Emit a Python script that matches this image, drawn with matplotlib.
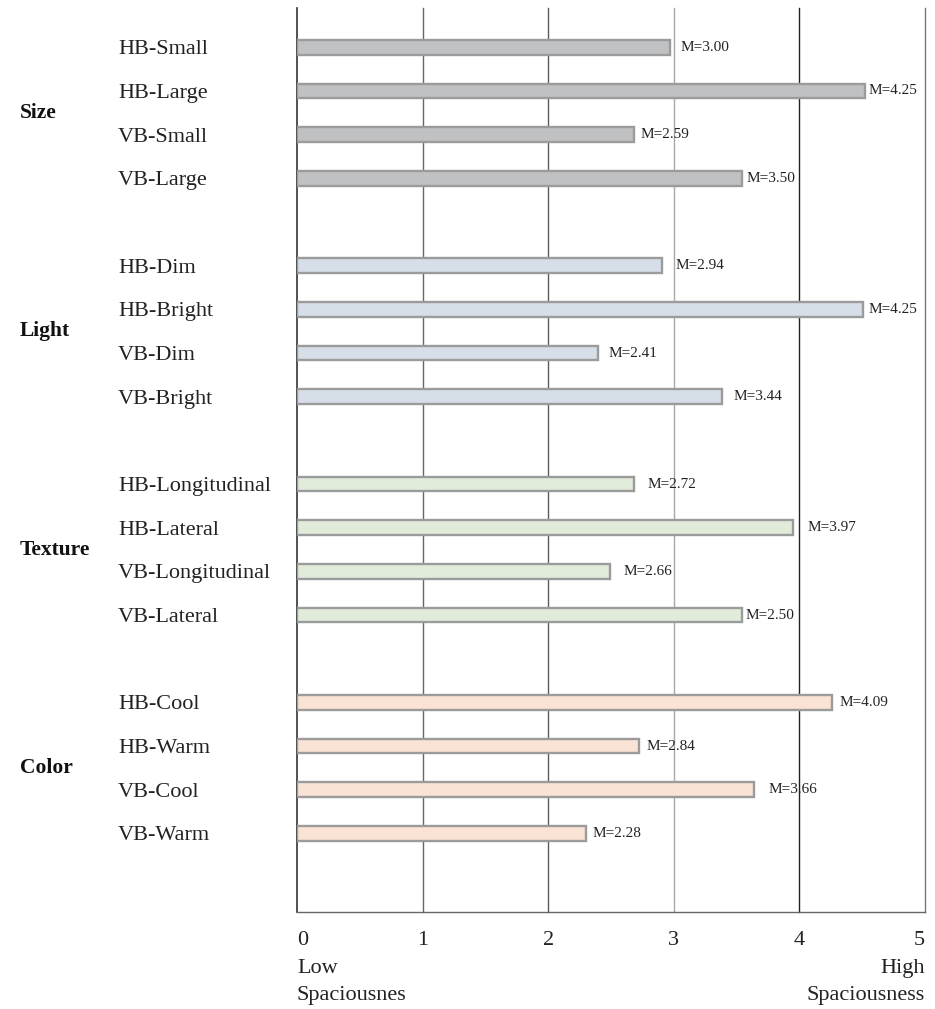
import matplotlib
matplotlib.use("Agg")
import matplotlib.pyplot as plt
from matplotlib.transforms import blended_transform_factory, offset_copy

plt.rcParams['font.family'] = ['Liberation Serif', 'DejaVu Serif']

groups = ["Size", "Light", "Texture", "Color"]
categories = [
    ["HB-Small", "HB-Large", "VB-Small", "VB-Large"],
    ["HB-Dim", "HB-Bright", "VB-Dim", "VB-Bright"],
    ["HB-Longitudinal", "HB-Lateral", "VB-Longitudinal", "VB-Lateral"],
    ["HB-Cool", "HB-Warm", "VB-Cool", "VB-Warm"],
]
bar_values = [
    [2.97, 4.52, 2.68, 3.54],
    [2.91, 4.51, 2.40, 3.38],
    [2.68, 3.95, 2.49, 3.54],
    [4.26, 2.72, 3.64, 2.30],
]
mean_labels = [
    ["M=3.00", "M=4.25", "M=2.59", "M=3.50"],
    ["M=2.94", "M=4.25", "M=2.41", "M=3.44"],
    ["M=2.72", "M=3.97", "M=2.66", "M=2.50"],
    ["M=4.09", "M=2.84", "M=3.66", "M=2.28"],
]
x_ticks = [0, 1, 2, 3, 4, 5]
x_tick_labels = ["0\nLow\nSpaciousnes", "1", "2", "3", "4", "5\nHigh\nSpaciousness"]

# styling
group_colors = ["#c0c1c3", "#d6dee7", "#e0ebda", "#fae2d5"]
label_offsets_px = [[10, 4, 7, 5], [13, 5, 10, 12], [14, 14, 14, 4], [7, 8, 14, 7]]
grid_colors = ["#333333", "#666666", "#5a5a5a", "#a8a8a8", "#222222", "#777777"]

W, H, DPI = 935, 1009, 100
fig = plt.figure(figsize=(W / DPI, H / DPI), dpi=DPI)
ax = fig.add_axes([297 / W, 1 - 912 / H, (925 - 297) / W, (912 - 8) / H])

positions = []
labels_all = []
pos = 0
for gi, (cats, vals, mls) in enumerate(zip(categories, bar_values, mean_labels)):
    gpos = []
    for ci, (c, v, m) in enumerate(zip(cats, vals, mls)):
        ax.barh(pos, v, height=0.34, color=group_colors[gi], edgecolor="#9b9b9b",
                linewidth=1.7, zorder=3)
        tr = offset_copy(ax.transData, fig=fig, x=label_offsets_px[gi][ci] * 72 / DPI,
                         y=0, units='points')
        ax.text(v, pos, m, transform=tr, ha='left', va='center', fontsize=11,
                color='#222222', zorder=4)
        positions.append(pos)
        labels_all.append(c)
        gpos.append(pos)
        pos += 1
    btr = blended_transform_factory(fig.transFigure, ax.transData)
    ax.text(20 / W, (gpos[1] + gpos[2]) / 2, groups[gi], transform=btr, ha='left',
            va='center', fontsize=15.5, fontweight='bold', color='#111111')
    pos += 1

ax.set_xlim(0, 5)
ax.set_ylim(19.8, -0.9)

ax.set_yticks(positions)
ax.set_yticklabels(labels_all, fontsize=16, color='#222222')
ax.tick_params(axis='y', length=0, pad=(297 - 118) * 72 / DPI)
for t in ax.get_yticklabels():
    t.set_horizontalalignment('left')

ax.set_xticks(x_ticks)
ax.set_xticklabels(x_tick_labels, fontsize=16, color='#222222', linespacing=1.6)
ax.tick_params(axis='x', length=0, pad=14)
xl = ax.get_xticklabels()
xl[0].set_horizontalalignment('left')
xl[0].set_multialignment('left')
xl[-1].set_horizontalalignment('right')
xl[-1].set_multialignment('right')

for x, c in zip(x_ticks[1:], grid_colors[1:]):
    ax.axvline(x, color=c, linewidth=1.0, zorder=1, clip_on=False)

for s in ['top', 'right']:
    ax.spines[s].set_visible(False)
ax.spines['left'].set_color(grid_colors[0])
ax.spines['left'].set_linewidth(1.2)
ax.spines['bottom'].set_color('#666666')
ax.spines['bottom'].set_linewidth(1.0)

fig.savefig("out.png", dpi=DPI)
